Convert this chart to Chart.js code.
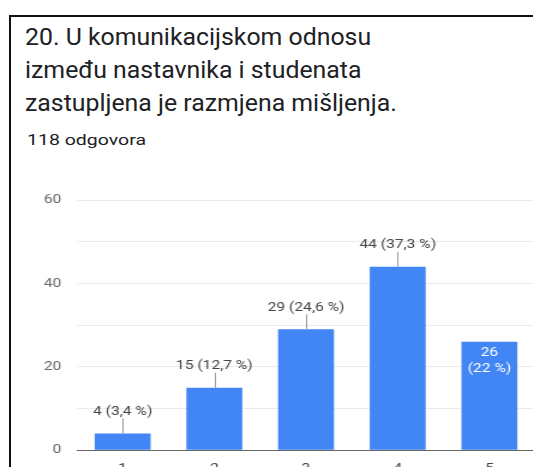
<!DOCTYPE html>
<html>
<head>
<meta charset="utf-8">
<script src="https://cdn.jsdelivr.net/npm/chart.js@4"></script>
<style>
    html, body { margin: 0; padding: 0; background: #fff; overflow: hidden; }
    body { width: 533px; height: 467px; position: relative; font-family: Roboto, sans-serif; }
    .frame { position: absolute; left: 9px; top: 15px; width: 540px; height: 470px; border-left: 2px solid #111; border-top: 2px solid #111; }
    .title { position: absolute; left: 25px; top: 21px; font-size: 23px; line-height: 33px; color: #202124; white-space: nowrap; transform: scaleX(1.08); transform-origin: 0 0; }
    .sub { position: absolute; left: 27px; top: 131px; font-size: 15px; color: #202124; white-space: nowrap; transform: scaleX(1.3); transform-origin: 0 0; }
    #chart { position: absolute; left: 0; top: 170px; transform: scaleX(1.2); transform-origin: 0 0; }
</style>
</head>
<body>
<div class="frame"></div>
<div class="title">20. U komunikacijskom odnosu<br>između nastavnika i studenata<br>zastupljena je razmjena mišljenja.</div>
<div class="sub">118 odgovora</div>
<canvas id="chart" width="448" height="301"></canvas>
<script>
document.addEventListener('DOMContentLoaded', function () {
    const categories = ['1', '2', '3', '4', '5'];
    const answers = [4, 15, 29, 44, 26];
    const percents = ['3,4', '12,7', '24,6', '37,3', '22'];
    const yTickLabels = [0, 20, 40, 60];

    const colors = {
        bar: '#4285f4',
        text: '#444444',
        axisText: '#666666',
        grid: '#ebebeb',
        baseline: '#666666',
        leader: '#999999'
    };

    // value labels as in Google Forms: above with a leader line, last one inside
    const barLabels = {
        id: 'barLabels',
        afterDatasetsDraw(chart) {
            const ctx = chart.ctx;
            const meta = chart.getDatasetMeta(0);
            ctx.save();
            ctx.font = '13px Roboto';
            ctx.textAlign = 'center';
            ctx.textBaseline = 'middle';
            meta.data.forEach((bar, i) => {
                const label = answers[i] + ' (' + percents[i] + ' %)';
                if (i === answers.length - 1) {
                    ctx.fillStyle = '#ffffff';
                    ctx.fillText(String(answers[i]), bar.x, bar.y + 11);
                    ctx.fillText('(' + percents[i] + ' %)', bar.x, bar.y + 27);
                } else {
                    ctx.strokeStyle = colors.leader;
                    ctx.lineWidth = 1;
                    ctx.beginPath();
                    ctx.moveTo(Math.round(bar.x) + 0.5, bar.y);
                    ctx.lineTo(Math.round(bar.x) + 0.5, bar.y - 15);
                    ctx.stroke();
                    ctx.fillStyle = colors.text;
                    ctx.fillText(label, bar.x, bar.y - 22);
                }
            });
            ctx.restore();
        }
    };

    new Chart(document.getElementById('chart').getContext('2d'), {
        type: 'bar',
        data: {
            labels: categories,
            datasets: [{
                data: answers,
                backgroundColor: colors.bar,
                barPercentage: 0.61,
                categoryPercentage: 1
            }]
        },
        options: {
            responsive: false,
            animation: false,
            devicePixelRatio: 1,
            layout: { padding: { top: 30, right: 2, left: 0, bottom: 0 } },
            scales: {
                y: {
                    min: 0,
                    max: 60,
                    afterFit: scale => { scale.width = 64; },
                    border: { display: false },
                    grid: {
                        drawTicks: false,
                        color: c => c.tick.value === 0 ? colors.baseline : colors.grid
                    },
                    ticks: {
                        stepSize: 10,
                        padding: 13,
                        color: colors.axisText,
                        font: { family: 'Roboto', size: 13 },
                        callback: v => yTickLabels.includes(v) ? v : ''
                    }
                },
                x: {
                    afterFit: scale => { scale.height = 20; },
                    border: { display: false },
                    grid: { display: false },
                    ticks: {
                        padding: 3,
                        color: colors.text,
                        font: { family: 'Roboto', size: 13 }
                    }
                }
            },
            plugins: {
                legend: { display: false },
                tooltip: { enabled: false }
            }
        },
        plugins: [barLabels]
    });
});
</script>
</body>
</html>
